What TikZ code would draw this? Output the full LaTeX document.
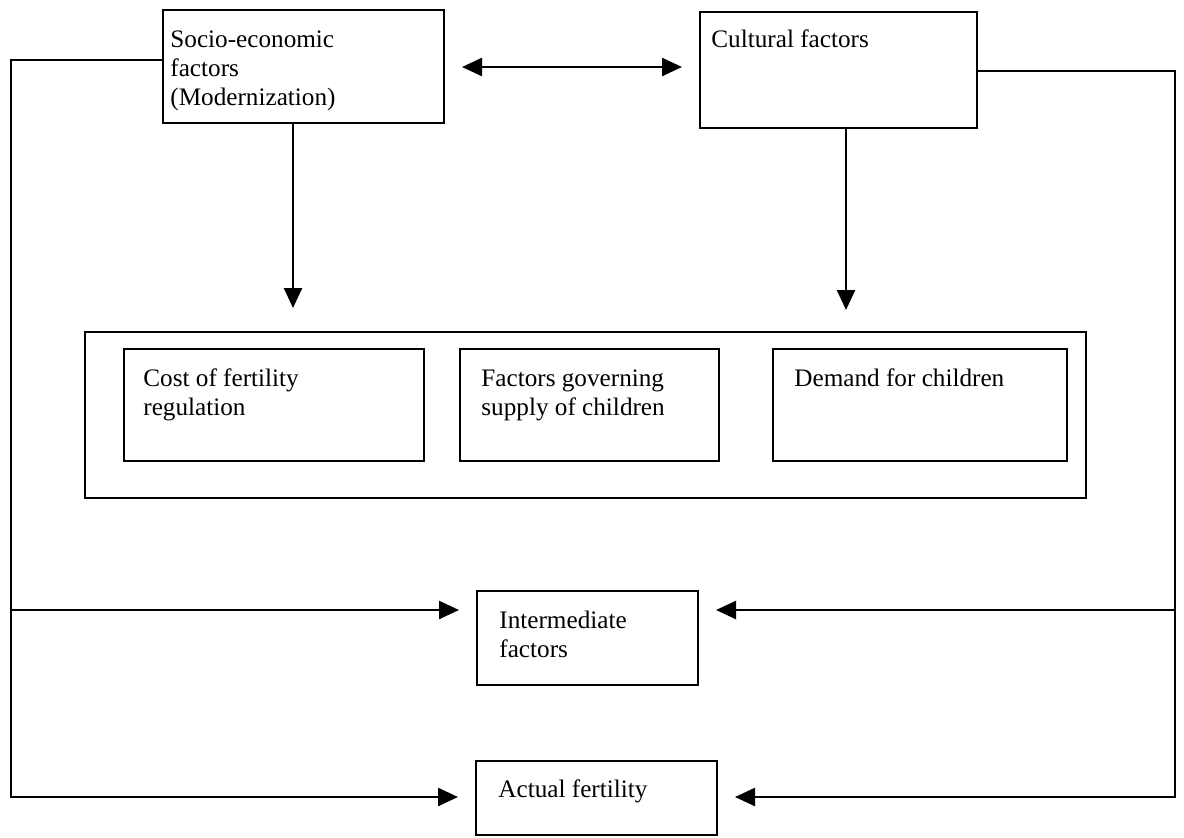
\documentclass[tikz,border=0pt]{standalone}
\usepackage{fontspec}
\setmainfont{Liberation Serif}
\usetikzlibrary{arrows.meta}
\begin{document}
\begin{tikzpicture}[x=0.5pt,y=-0.5pt,
  box/.style={draw, line width=1pt, inner sep=0pt, outer sep=0pt, anchor=north west},
  lbl/.style={anchor=base west, inner sep=0pt, align=left, font=\fontsize{12.6}{14.5}\selectfont},
  conn/.style={line width=1.2pt},
  tip/.style={conn, -{Triangle[length=10pt,width=9pt]}},
  arr/.style={tip, shorten >=9pt},
  dbl/.style={conn, {Triangle[length=10pt,width=9pt]}-{Triangle[length=10pt,width=9pt]}}]
\useasboundingbox (0,0) rectangle (1184,837);
% boxes
\node[box, minimum width=140.5pt, minimum height=56.5pt] (socio) at (163,10) {};
\node[box, minimum width=138.5pt, minimum height=58pt] (cultural) at (700,12) {};
\node[box, minimum width=500.5pt, minimum height=83pt] (outer) at (85,332) {};
\node[box, minimum width=150pt, minimum height=56pt] (cost) at (124,349) {};
\node[box, minimum width=129.5pt, minimum height=56pt] (supply) at (460,349) {};
\node[box, minimum width=147pt, minimum height=56pt] (demand) at (773,349) {};
\node[box, minimum width=110.5pt, minimum height=47pt] (inter) at (477,591) {};
\node[box, minimum width=120.5pt, minimum height=37pt] (actual) at (476,761) {};
% texts (anchor = baseline of the last line)
\node[lbl] (socio-t) at (170,105) {Socio-economic\\factors\\(Modernization)};
\node[lbl] (cultural-t) at (711,47) {Cultural factors};
\node[lbl] (cost-t) at (143,415) {Cost of fertility\\regulation};
\node[lbl] (supply-t) at (481,415) {Factors governing\\supply of children};
\node[lbl] (demand-t) at (794,386) {Demand for children};
\node[lbl] (inter-t) at (499,657) {Intermediate\\factors};
\node[lbl] (actual-t) at (498,797) {Actual fertility};
% coordinates
\coordinate (sd) at (293,308);
\coordinate (cd) at (846,310);
\coordinate (dl) at (462,67);
\coordinate (dr) at (682,67);
\coordinate (L1) at (11,60);
\coordinate (L2) at (11,797);
\coordinate (Li) at (11,610);
\coordinate (R1) at (1175,71);
\coordinate (R2) at (1175,797);
\coordinate (Ri) at (1175,610);
% connectors
\draw[tip] (socio.south -| sd) -- (sd);
\draw[tip] (cultural.south -| cd) -- (cd);
\draw[dbl] (dl) -- (dr);
\draw[arr] (socio.west |- L1) -- (L1) -- (L2) -- (actual.west |- L2);
\draw[arr] (Li) -- (inter.west |- Li);
\draw[arr] (cultural.east |- R1) -- (R1) -- (R2) -- (actual.east |- R2);
\draw[arr] (Ri) -- (inter.east |- Ri);
\end{tikzpicture}
\end{document}
